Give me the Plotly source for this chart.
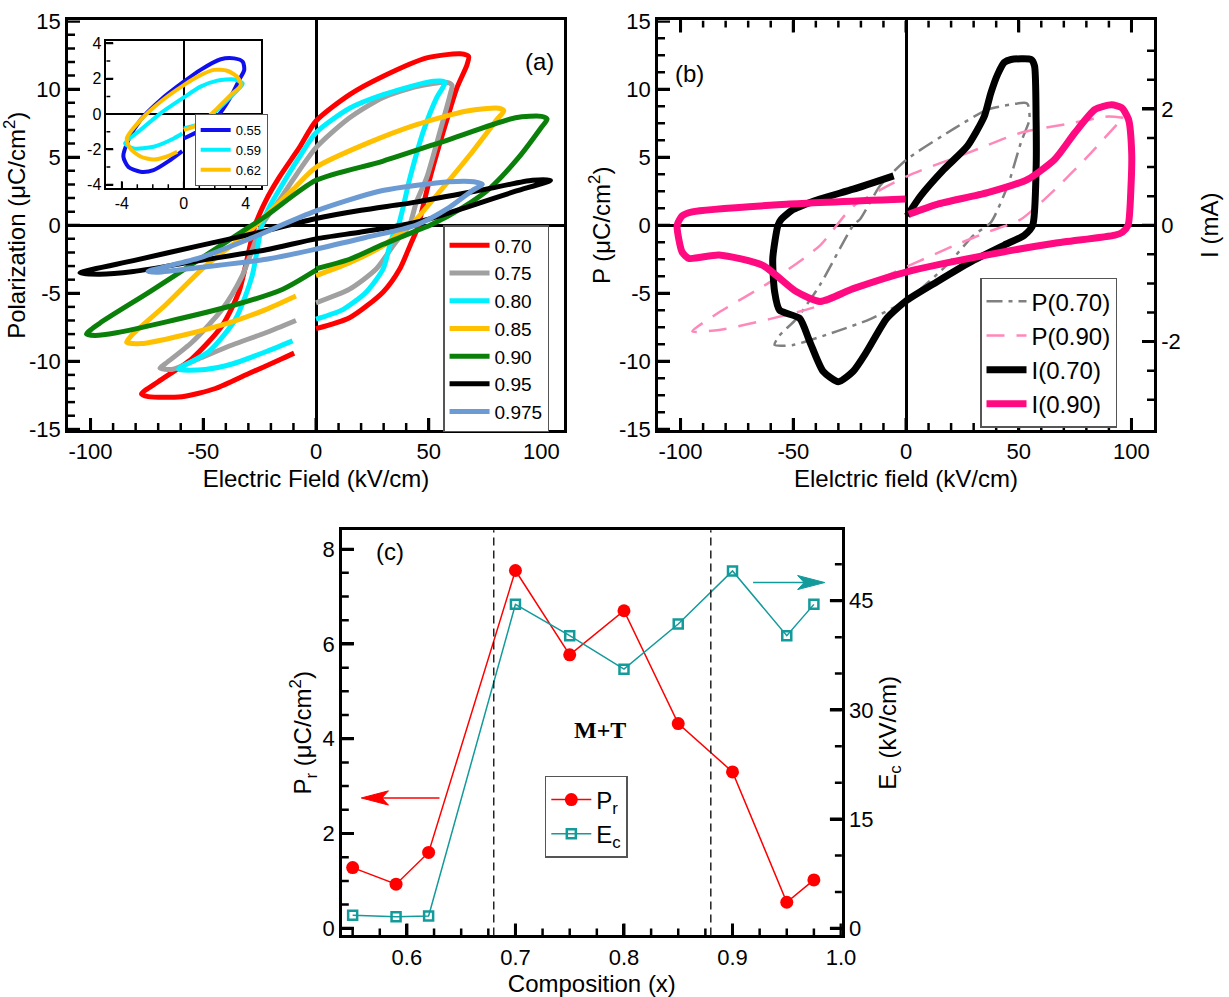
import plotly.graph_objects as go

# ---------------- Panel (a): P-E loops (E in kV/cm, P in uC/cm2) ----------------
a_names = ["0.70", "0.75", "0.80", "0.85", "0.90", "0.95", "0.975"]
a070_E = [0, 14.9, 29.8, 37.2, 41.7, 44.6, 45.4, 50.6, 56.5, 62.5, 67, 67.7, 64, 49.1, 29.8, 14.9, 0, -7.4, -16.4, -22.3, -27, -34.2, -41.7, -55, -70, -77.4, -74.4, -59.5, -44.6, -29.8, -14.9, -9.7]
a070_P = [-7.6, -6.8, -4.9, -3.2, -1.5, -0.4, 0, 3.5, 6.9, 10.1, 11.8, 12.4, 12.6, 12.3, 10.95, 9.6, 7.66, 5.7, 3.5, 1.8, 0, -4.9, -7.4, -9.8, -11.5, -12.4, -12.6, -12.6, -12.0, -10.9, -9.8, -9.4]
a075_E = [0, 14.9, 26.8, 34.2, 38.5, 41.5, 44.5, 49.1, 55, 59.5, 60.3, 58, 44.6, 29.8, 14.9, 0, -10.4, -16.4, -24, -32.7, -41.7, -55, -67, -69.2, -64, -52, -37.2, -22.3, -8.9]
a075_P = [-5.7, -4.7, -3.2, -1.5, -0.6, 0, 1.7, 3.5, 6.9, 9.6, 10.3, 10.5, 10.2, 9.4, 7.9, 5.7, 3.3, 1.8, 0, -3.7, -6.2, -8.6, -10.2, -10.5, -10.6, -9.8, -8.8, -7.9, -7.0]
a080_E = [0, 11.9, 22.3, 29.8, 32.7, 35, 36.5, 41.7, 47.6, 53.6, 57.3, 55, 49.1, 29.8, 14.9, 0, -7.4, -14.9, -20.8, -24, -28.3, -35.7, -47.6, -61, -49.1, -37.2, -22.3, -10.4]
a080_P = [-6.9, -6.2, -4.9, -3.2, -1.5, -0.3, 0, 3.5, 6.9, 9.4, 10.5, 10.6, 10.5, 9.6, 8.6, 6.8, 5.0, 3.0, 1.3, 0, -3.7, -6.9, -9.3, -10.6, -10.6, -10.2, -9.3, -8.5]
a085_E = [0, 14.9, 29.8, 37.2, 42, 56.5, 68.4, 80.4, 83.3, 81, 67, 44.6, 22.3, 0, -10.4, -20.5, -30.5, -49.1, -67, -81.8, -84, -77.4, -59.5, -37.2, -22.3, -8.9]
a085_P = [-3.7, -2.75, -1.5, -0.56, 0, 2.8, 5.2, 7.8, 8.4, 8.6, 8.4, 7.4, 6.0, 4.26, 2.6, 1.0, -0.6, -3.0, -5.9, -8.1, -8.6, -8.7, -8.1, -7.1, -6.2, -5.2]
a090_E = [0, 14.9, 29.8, 44.6, 50.6, 65, 77, 90, 100, 102.5, 100, 88.5, 59, 29.5, 0, -22, -34, -51.6, -73.8, -95.9, -101.8, -98, -88.5, -66.4, -36.9, -14.7, 0]
a090_P = [-3.2, -2.5, -1.4, -0.4, 0, 1.3, 2.7, 5.0, 7.2, 7.8, 8.0, 7.9, 6.3, 4.7, 3.3, 0.7, -0.6, -2.5, -4.9, -7.2, -8.0, -8.1, -7.9, -7.1, -5.9, -4.7, -3.3]
a095_E = [0, 20, 38, 50, 66.4, 88.5, 104, 96, 73.8, 44.2, 20, 0, -22, -51.6, -81, -104.7, -96, -81, -51.6, -22, 0]
a095_P = [-1.0, -0.5, 0, 0.45, 1.3, 2.5, 3.3, 3.3, 2.6, 1.7, 1.1, 0.5, -0.4, -1.5, -2.6, -3.5, -3.6, -3.4, -2.6, -1.8, -1.0]
a0975_E = [0, 22, 44.2, 59, 69.3, 73.8, 70, 59, 29.5, 0, -29.5, -51.6, -74.5, -70, -51.6, -22, 0]
a0975_P = [-1.75, -0.9, 0, 1.3, 2.55, 3.0, 3.2, 3.2, 2.55, 1.05, -1.0, -2.4, -3.4, -3.45, -3.1, -2.5, -1.75]

# ---------------- Inset of (a) ----------------
ins_names = ["0.55", "0.59", "0.62"]
i055_E = [0, 1.08, 2.16, 3.03, 3.57, 3.9, 3.8, 3.25, 2.38, 1.08, 0, -1.5, -2.8, -3.57, -3.9, -3.57, -2.8, -1.95, -0.87, -0.1]
i055_P = [-1.38, -0.9, -0.15, 0.98, 1.92, 2.5, 2.96, 3.15, 3.1, 2.5, 1.83, 0.8, -0.34, -1.47, -2.4, -3.0, -3.26, -3.17, -2.6, -2.1]
i059_E = [0, 1.08, 2.16, 3.03, 3.68, 3.8, 3.25, 2.16, 1.08, 0, -1.5, -2.8, -3.79, -3.25, -1.95, -0.65, -0.1]
i059_P = [-0.81, -0.53, 0.23, 0.98, 1.55, 1.74, 1.96, 1.89, 1.55, 0.94, 0.04, -0.9, -1.66, -1.94, -1.85, -1.38, -1.1]
i062_E = [0, 1.08, 2.16, 3.03, 3.68, 3.46, 2.8, 1.95, 1.08, 0, -1.5, -2.8, -3.68, -3.46, -2.8, -1.95, -1.08, -0.43]
i062_P = [-0.9, -0.53, 0.32, 1.08, 1.64, 2.1, 2.45, 2.5, 2.2, 1.64, 0.7, -0.34, -1.38, -1.94, -2.4, -2.57, -2.4, -2.13]

# ---------------- Panel (b): P (uC/cm2) and I (mA) ----------------
b_names = ["P(0.70)", "P(0.90)", "I(0.70)", "I(0.90)"]
bP070_E = [52.5, 36.2, 21.3, 0.4, -11.5, -20.4, -23.4, -38.2, -48.7, -56.1, -58.3, -50.1, -30.8, -15.9, 0.4, 18.3, 30.2, 37.6, 45.1, 51, 54.8, 54, 52.5]
bP070_P = [9.0, 8.5, 7.1, 4.85, 2.9, 0.44, 0, -4.4, -6.9, -8.1, -8.8, -8.8, -7.8, -6.9, -5.5, -2.9, -0.7, 0.2, 2.9, 6.1, 7.8, 8.9, 9.0]
bP090_E = [96.4, 89.7, 73.4, 51, 27.2, 0.4, -23.4, -38.2, -60.6, -82.9, -94.8, -82.9, -60.6, -38.2, -8.5, 21.3, 36.2, 51, 65.9, 80.8, 95.7]
bP090_P = [7.9, 8.0, 7.5, 6.8, 5.3, 3.6, 1.4, -1.5, -4.2, -6.4, -7.8, -7.7, -6.9, -5.9, -3.7, -1.5, -0.5, 0.44, 2.6, 5.1, 7.8]
bI070_E = [0.5, 6.4, 16.8, 27.2, 34.7, 37.6, 40.6, 43.6, 46.6, 55.5, 57, 57.7, 57.7, 56.2, 52.5, 43.6, 28.7, 13.8, 0.4, -8.5, -17.4, -23.4, -30, -36.8, -42.7, -47.2, -56.1, -58.3, -59.1, -56.8, -55.4, -50.1, -38.2, -23.4, -5.5]
bI070_I = [0.16, 0.5, 0.96, 1.36, 1.87, 2.27, 2.59, 2.8, 2.85, 2.85, 2.74, 1.82, 0.96, 0, -0.17, -0.34, -0.63, -0.97, -1.29, -1.6, -2.17, -2.51, -2.69, -2.51, -2.0, -1.6, -1.46, -1.14, -0.57, 0, 0.1, 0.27, 0.45, 0.62, 0.85]
bI090_E = [1.2, 13.8, 36.2, 54, 65.9, 74.9, 83.8, 91.2, 95.7, 98.7, 100.1, 99.8, 98.5, 96, 92.7, 65.9, 36.2, 0.4, -23.4, -38.2, -48.7, -63.5, -82.9, -96.3, -99.3, -101.5, -99.3, -94.8, -53.1, -0.3]
bI090_I = [0.19, 0.36, 0.56, 0.79, 1.13, 1.59, 1.99, 2.07, 2.02, 1.82, 1.25, 0.67, 0, -0.12, -0.17, -0.31, -0.51, -0.8, -1.09, -1.31, -1.14, -0.69, -0.51, -0.57, -0.46, 0, 0.16, 0.23, 0.36, 0.45]

# ---------------- Panel (c): Pr and Ec vs composition ----------------
comp = [0.55, 0.59, 0.62, 0.70, 0.75, 0.80, 0.85, 0.90, 0.95, 0.975]
Pr = [1.28, 0.93, 1.60, 7.55, 5.77, 6.70, 4.32, 3.30, 0.55, 1.02]
Ec = [1.8, 1.6, 1.7, 44.5, 40.2, 35.6, 41.8, 49.1, 40.2, 44.5]
phase_bounds = [0.68, 0.88]

# tick labels
a_xticks = [-100, -50, 0, 50, 100]
a_xtext = ["-100", "-50", "0", "50", "100"]
a_yticks = [-15, -10, -5, 0, 5, 10, 15]
a_ytext = ["-15", "-10", "-5", "0", "5", "10", "15"]
ins_ticks = [-4, -2, 0, 2, 4]
ins_text = ["-4", "-2", "0", "2", "4"]
ins_xticks = [-4, 0, 4]
ins_xtext = ["-4", "0", "4"]
b_Iticks = [-2, 0, 2]
b_Itext = ["-2", "0", "2"]
c_xticks = [0.6, 0.7, 0.8, 0.9, 1.0]
c_xtext = ["0.6", "0.7", "0.8", "0.9", "1.0"]
c_yticks = [0, 2, 4, 6, 8]
c_y2ticks = [0, 15, 30, 45]

# minor tick positions (axis furniture)
a_xminor = [v for v in range(-100, 101, 10) if v % 50]
a_yminor = [v for v in range(-14, 15) if v % 5]
b_yminor = [k * 1.25 for k in range(-11, 12) if k % 4]
b_Iminor = [k * 0.5 for k in range(-6, 7) if k % 4]
ins_xminor = [-3, -2, -1, 1, 2, 3]
ins_yminor = [-3, -1, 1, 3]
c_xminor = [round(0.55 + k * 0.025, 3) for k in range(18) if (k + 2) % 4]
c_yminor = [k * 0.5 for k in range(1, 17) if k % 4]
c_y2minor = [5, 10, 20, 25, 35, 40, 50]

# ---------------- geometry / styles ----------------
A_XDOM, A_YDOM = [0.05533, 0.45891], [0.56871, 0.97944]
I_XDOM, I_YDOM = [0.08649, 0.21261], [0.81113, 0.95918]
B_XDOM = [0.5354, 0.93898]
C_XDOM, C_YDOM = [0.27811, 0.68503], [0.06179, 0.4682]
A_XR, A_YR = [-110, 110], [-15.05, 15.05]
I_XR, I_YR = [-5, 5], [-4.2, 4.15]
B_IR = [-3.52, 3.52]
C_XR, C_YR, C_Y2R = [0.54, 1.0008], [-0.15, 8.4], [-0.977, 54.69]
W, H = 1229, 997

a_colors = ["#ff0000", "#a0a0a0", "#00f0ff", "#ffc000", "#0a800a", "#000000", "#6b9bd2"]
ins_colors = ["#1010ee", "#00f0ff", "#ffc000"]
FONT = "Liberation Sans, Arial, sans-serif"

fig = go.Figure()

a_E = [a070_E, a075_E, a080_E, a085_E, a090_E, a095_E, a0975_E]
a_P = [a070_P, a075_P, a080_P, a085_P, a090_P, a095_P, a0975_P]
for nm, E, P, col in zip(a_names, a_E, a_P, a_colors):
    fig.add_trace(go.Scatter(x=E, y=P, mode="lines", name=nm, xaxis="x", yaxis="y", legend="legend",
                             line=dict(color=col, width=5, shape="spline", smoothing=0.7)))

i_E = [i055_E, i059_E, i062_E]
i_P = [i055_P, i059_P, i062_P]
for nm, E, P, col in zip(ins_names, i_E, i_P, ins_colors):
    fig.add_trace(go.Scatter(x=E, y=P, mode="lines", name=nm, xaxis="x2", yaxis="y2", legend="legend2",
                             line=dict(color=col, width=4, shape="spline", smoothing=0.7)))

fig.add_trace(go.Scatter(x=bP070_E, y=bP070_P, mode="lines", name=b_names[0], xaxis="x3", yaxis="y3", legend="legend3",
                         line=dict(color="#808080", width=2.5, dash="16px,6px,4px,6px", shape="spline", smoothing=0.6)))
fig.add_trace(go.Scatter(x=bP090_E, y=bP090_P, mode="lines", name=b_names[1], xaxis="x3", yaxis="y3", legend="legend3",
                         line=dict(color="#ff88bb", width=2.5, dash="18px,12px", shape="spline", smoothing=0.6)))
fig.add_trace(go.Scatter(x=bI070_E, y=bI070_I, mode="lines", name=b_names[2], xaxis="x3", yaxis="y4", legend="legend3",
                         line=dict(color="#000000", width=7, shape="spline", smoothing=0.6)))
fig.add_trace(go.Scatter(x=bI090_E, y=bI090_I, mode="lines", name=b_names[3], xaxis="x3", yaxis="y4", legend="legend3",
                         line=dict(color="#ff0a80", width=7, shape="spline", smoothing=0.6)))

fig.add_trace(go.Scatter(x=comp, y=Pr, mode="lines+markers", name="P<sub>r</sub>", xaxis="x4", yaxis="y5", legend="legend4",
                         line=dict(color="#ff0000", width=1.5), marker=dict(symbol="circle", size=13, color="#ff0000")))
fig.add_trace(go.Scatter(x=comp, y=Ec, mode="lines+markers", name="E<sub>c</sub>", xaxis="x4", yaxis="y6", legend="legend4",
                         line=dict(color="#139a9a", width=1.5),
                         marker=dict(symbol="square-open", size=9, color="#139a9a", line=dict(width=2.5, color="#139a9a"))))


# ---- inside tick marks, drawn as short line segments on each subplot's own scales ----
def px_to_units(rng, dom, total_px, px):
    return px * (rng[1] - rng[0]) / ((dom[1] - dom[0]) * total_px)


def xticks_trace(xa, ya, vals, yr, ydom, px, width, top=False):
    L = px_to_units(yr, ydom, H, px)
    base = yr[1] if top else yr[0]
    end = base - L if top else base + L
    xs, ys = [], []
    for v in vals:
        xs += [v, v, None]
        ys += [base, end, None]
    fig.add_trace(go.Scatter(x=xs, y=ys, mode="lines", xaxis=xa, yaxis=ya, showlegend=False,
                             hoverinfo="skip", line=dict(color="#000000", width=width, simplify=False)))


def yticks_trace(xa, ya, vals, xr, xdom, px, width, right=False):
    L = px_to_units(xr, xdom, W, px)
    base = xr[1] if right else xr[0]
    end = base - L if right else base + L
    xs, ys = [], []
    for v in vals:
        xs += [base, end, None]
        ys += [v, v, None]
    fig.add_trace(go.Scatter(x=xs, y=ys, mode="lines", xaxis=xa, yaxis=ya, showlegend=False,
                             hoverinfo="skip", line=dict(color="#000000", width=width, simplify=False)))


MAJ, MIN = 12, 7
xticks_trace("x", "y", a_xticks, A_YR, A_YDOM, MAJ, 3)
xticks_trace("x", "y", a_xminor, A_YR, A_YDOM, MIN, 2.5)
yticks_trace("x", "y", a_yticks, A_XR, A_XDOM, MAJ, 3)
yticks_trace("x", "y", a_yminor, A_XR, A_XDOM, MIN, 2.5)
xticks_trace("x2", "y2", ins_xticks, I_YR, I_YDOM, 7, 1.8)
xticks_trace("x2", "y2", ins_xminor, I_YR, I_YDOM, 4, 1.5)
yticks_trace("x2", "y2", ins_ticks, I_XR, I_XDOM, 7, 1.8)
yticks_trace("x2", "y2", ins_yminor, I_XR, I_XDOM, 4, 1.5)
for top in (False, True):
    xticks_trace("x3", "y3", a_xticks, A_YR, A_YDOM, MAJ, 3, top=top)
    xticks_trace("x3", "y3", a_xminor, A_YR, A_YDOM, MIN, 2.5, top=top)
yticks_trace("x3", "y3", a_yticks, A_XR, B_XDOM, MAJ, 3)
yticks_trace("x3", "y3", b_yminor, A_XR, B_XDOM, MIN, 2.5)
yticks_trace("x3", "y4", b_Iticks, A_XR, B_XDOM, MAJ, 3, right=True)
yticks_trace("x3", "y4", b_Iminor, A_XR, B_XDOM, MIN, 2.5, right=True)
xticks_trace("x4", "y5", c_xticks, C_YR, C_YDOM, MAJ, 3)
xticks_trace("x4", "y5", c_xminor, C_YR, C_YDOM, MIN, 2.5)
yticks_trace("x4", "y5", c_yticks, C_XR, C_XDOM, MAJ, 3)
yticks_trace("x4", "y5", c_yminor, C_XR, C_XDOM, MIN, 2.5)
yticks_trace("x4", "y6", c_y2ticks, C_XR, C_XDOM, MAJ, 3, right=True)
yticks_trace("x4", "y6", c_y2minor, C_XR, C_XDOM, MIN, 2.5, right=True)


def ax(**kw):
    d = dict(showline=True, linecolor="black", linewidth=2.5, mirror=True,
             ticks="inside", ticklen=MAJ, tickwidth=3, tickcolor="black",
             showgrid=False, zeroline=False, automargin=False, layer="above traces", tickmode="array",
             tickfont=dict(size=22, color="black", family=FONT))
    d.update(kw)
    return d


TF = dict(size=24, color="black", family=FONT)

layout = dict(
    template="none",
    width=W, height=H, margin=dict(l=0, r=0, t=0, b=0, autoexpand=False),
    paper_bgcolor="white", plot_bgcolor="white",
    font=dict(family=FONT, color="black"),
    xaxis=ax(domain=A_XDOM, range=A_XR, anchor="y", tickvals=a_xticks, ticktext=a_xtext,
             zeroline=True, zerolinecolor="black", zerolinewidth=2.5,
             title=dict(text="Electric Field (kV/cm)", font=TF, standoff=8)),
    yaxis=ax(domain=A_YDOM, range=A_YR, anchor="x", tickvals=a_yticks, ticktext=a_ytext,
             zeroline=True, zerolinecolor="black", zerolinewidth=2.5,
             title=dict(text="Polarization (μC/cm<sup>2</sup>)", font=TF, standoff=2)),
    xaxis2=ax(domain=I_XDOM, range=I_XR, anchor="y2", tickvals=ins_xticks, ticktext=ins_xtext,
              linewidth=1.5, ticklen=7, tickwidth=1.8, tickfont=dict(size=16, color="black", family=FONT),
              zeroline=True, zerolinecolor="black", zerolinewidth=1.5),
    yaxis2=ax(domain=I_YDOM, range=I_YR, anchor="x2", tickvals=ins_ticks, ticktext=ins_text,
              linewidth=1.5, ticklen=7, tickwidth=1.8, tickfont=dict(size=16, color="black", family=FONT),
              zeroline=True, zerolinecolor="black", zerolinewidth=1.5),
    xaxis3=ax(domain=B_XDOM, range=A_XR, anchor="y3", tickvals=a_xticks, ticktext=a_xtext,
              mirror="ticks", zeroline=True, zerolinecolor="black", zerolinewidth=2.5,
              title=dict(text="Elelctric field (kV/cm)", font=TF, standoff=8)),
    yaxis3=ax(domain=A_YDOM, range=A_YR, anchor="x3", tickvals=a_yticks, ticktext=a_ytext,
              zeroline=True, zerolinecolor="black", zerolinewidth=2.5,
              title=dict(text="P (μC/cm<sup>2</sup>)", font=TF, standoff=2)),
    yaxis4=ax(overlaying="y3", side="right", anchor="x3", range=B_IR, tickvals=b_Iticks, ticktext=b_Itext,
              mirror=False, title=dict(text="I (mA)", font=TF, standoff=22)),
    xaxis4=ax(domain=C_XDOM, range=C_XR, anchor="y5", tickvals=c_xticks, ticktext=c_xtext,
              title=dict(text="Composition (x)", font=TF, standoff=4)),
    yaxis5=ax(domain=C_YDOM, range=C_YR, anchor="x4", tickvals=c_yticks, mirror=False,
              title=dict(text="P<sub>r</sub> (μC/cm<sup>2</sup>)", font=TF, standoff=4)),
    yaxis6=ax(overlaying="y5", side="right", anchor="x4", range=C_Y2R, tickvals=c_y2ticks, mirror=False,
              title=dict(text="E<sub>c</sub> (kV/cm)", font=TF, standoff=4)),
    legend=dict(x=0.3605, y=0.7743, xanchor="left", yanchor="top", bgcolor="white", bordercolor="#555",
                borderwidth=1.5, font=dict(size=19, color="black", family=FONT), tracegroupgap=0, itemwidth=40),
    legend2=dict(x=0.1584, y=0.8857, xanchor="left", yanchor="top", bgcolor="white", bordercolor="#555",
                 borderwidth=1, font=dict(size=13, color="black", family=FONT), tracegroupgap=0, itemwidth=30),
    legend3=dict(x=0.7974, y=0.7215, xanchor="left", yanchor="top", bgcolor="white", bordercolor="#555",
                 borderwidth=1.5, font=dict(size=24, color="black", family=FONT), tracegroupgap=0, itemwidth=40),
    legend4=dict(x=0.4433, y=0.2217, xanchor="left", yanchor="top", bgcolor="white", bordercolor="#555",
                 borderwidth=1.5, font=dict(size=24, color="black", family=FONT), tracegroupgap=0, itemwidth=40),
    showlegend=True,
)
fig.update_layout(**layout)

# panel labels and annotations
fig.add_annotation(text="(a)", x=0.439, y=0.9539, xref="paper", yref="paper", showarrow=False,
                   font=dict(size=24, color="black", family=FONT))
fig.add_annotation(text="(b)", x=0.5614, y=0.9423, xref="paper", yref="paper", showarrow=False,
                   font=dict(size=24, color="black", family=FONT))
fig.add_annotation(text="(c)", x=0.3043, y=0.4473, xref="paper", yref="paper", showarrow=False,
                   font=dict(size=24, color="black", family=FONT))
fig.add_annotation(text="<b>M+T</b>", x=0.778, y=4.18, xref="x4", yref="y5", showarrow=False,
                   font=dict(size=24, color="black", family="Liberation Serif, Times New Roman, serif"))

# phase-boundary dashed lines
for xb in phase_bounds:
    fig.add_shape(type="line", x0=xb, x1=xb, y0=0, y1=1, xref="x4", yref="y5 domain",
                  line=dict(color="#222", width=1.5, dash="8px,5px"))

# arrows in (c)
red_tail, red_tip, red_y = 0.63, 0.558, 2.75
fig.add_shape(type="line", x0=red_tail, x1=red_tip + 0.018, y0=red_y, y1=red_y, xref="x4", yref="y5",
              line=dict(color="#ff0000", width=1.5))
fig.add_shape(type="path", xref="x4", yref="y5", fillcolor="#ff0000", line=dict(color="#ff0000", width=1),
              path=f"M {red_tip},{red_y} L {red_tip+0.025},{red_y+0.15} L {red_tip+0.019},{red_y} L {red_tip+0.025},{red_y-0.15} Z")
tl_tail, tl_tip, tl_y = 0.919, 0.985, 47.5
fig.add_shape(type="line", x0=tl_tail, x1=tl_tip - 0.018, y0=tl_y, y1=tl_y, xref="x4", yref="y6",
              line=dict(color="#139a9a", width=1.5))
fig.add_shape(type="path", xref="x4", yref="y6", fillcolor="#139a9a", line=dict(color="#139a9a", width=1),
              path=f"M {tl_tip},{tl_y} L {tl_tip-0.025},{tl_y+0.97} L {tl_tip-0.019},{tl_y} L {tl_tip-0.025},{tl_y-0.97} Z")

fig.write_html("out.html", config={"displayModeBar": False},
               post_script="document.body.style.margin='0px';")
